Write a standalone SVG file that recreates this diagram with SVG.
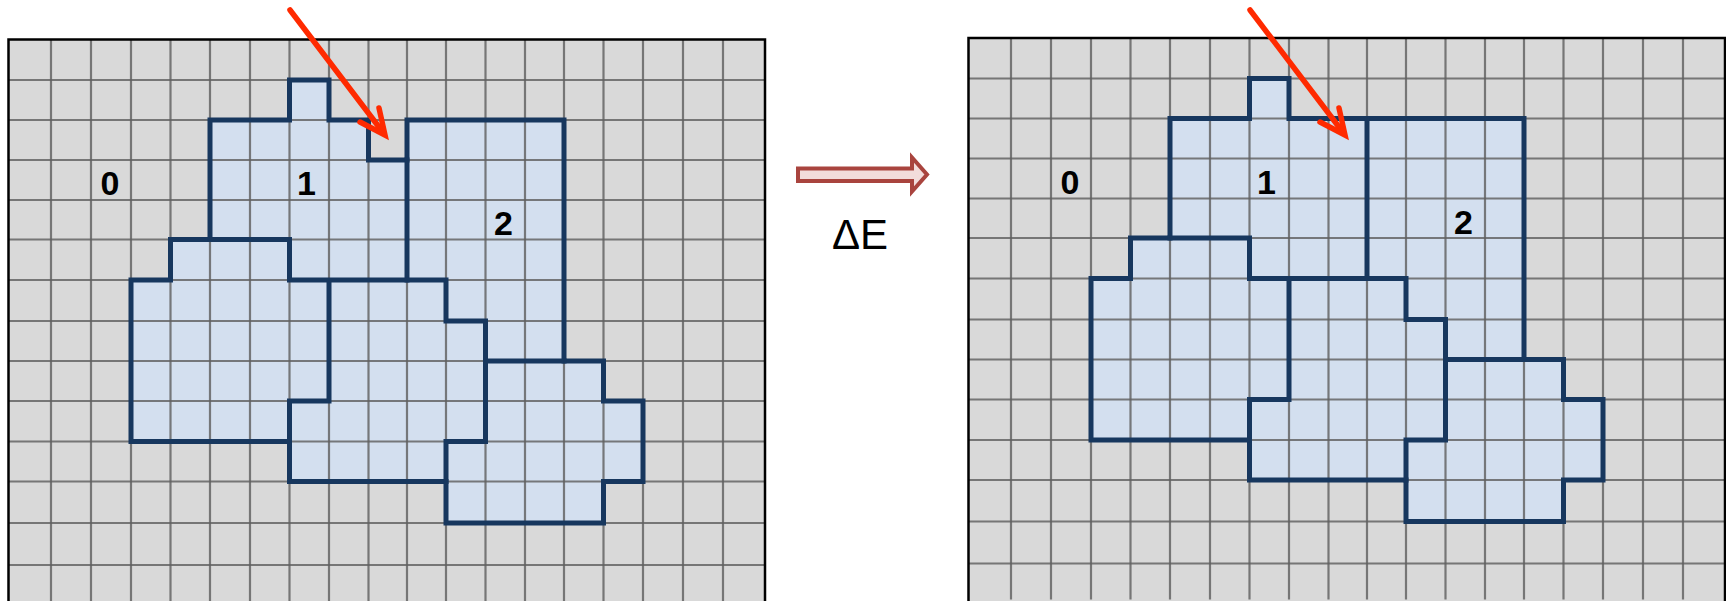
<svg xmlns="http://www.w3.org/2000/svg" xmlns:xlink="http://www.w3.org/1999/xlink" width="1726" height="601" viewBox="0 0 1726 601">
<style>
.bg{fill:#d9d9d9;stroke:none}
.border{fill:none;stroke:#000;stroke-width:2.5}
.fill{fill:#d3dfef;stroke:none}
.grid{stroke:#606060;stroke-opacity:0.82;stroke-width:2.2;fill:none}
.bnd{fill:none;stroke:#17375e;stroke-width:5;stroke-linejoin:miter;stroke-linecap:square}
.lbl{font-family:"Liberation Sans",Arial,sans-serif;font-weight:bold;font-size:34px;fill:#000;text-anchor:middle}
.red{fill:none;stroke:#ff2a00;stroke-width:5.5;stroke-linejoin:miter;stroke-linecap:round}
.de{font-family:"Liberation Sans",Arial,sans-serif;font-size:42px;fill:#000;text-anchor:middle}
</style>
<defs>
<g id="gridlines" class="grid">
<path d="M51,39.5V601M91,39.5V601M131,39.5V601M170.5,39.5V601M210,39.5V601M250,39.5V601M289.5,39.5V601M329,39.5V601M368.5,39.5V601M407,39.5V601M446,39.5V601M485.5,39.5V601M525,39.5V601M564,39.5V601M603.5,39.5V601M643,39.5V601M683,39.5V601M723,39.5V601"/>
<path d="M8.5,80H765M8.5,120H765M8.5,160H765M8.5,200H765M8.5,239.5H765M8.5,280H765M8.5,321H765M8.5,361H765M8.5,401H765M8.5,441.5H765M8.5,481.5H765M8.5,523H765M8.5,565H765"/>
</g>
<path id="inner" d="M210,239.5H289.5V280M289.5,280H446V321H485.5V441.5H446V481.5M485.5,361H564M329,280V401H289.5V441.5"/>
</defs>

<g id="panel-before">
<rect class="bg" x="8.5" y="39.5" width="756.5" height="570"/>
<path class="fill" d="M289.5,80H329V120H368.5V160H407V120H564V361H603.5V401H643V481.5H603.5V523H446V481.5H289.5V441.5H131V280H170.5V239.5H210V120H289.5Z"/>
<use xlink:href="#gridlines"/>
<g id="regions-before">
<path class="bnd" d="M289.5,80H329V120H368.5V160H407V120H564V361H603.5V401H643V481.5H603.5V523H446V481.5H289.5V441.5H131V280H170.5V239.5H210V120H289.5Z"/>
<path class="bnd" d="M407,160V280"/>
<use class="bnd" xlink:href="#inner"/>
</g>
<rect class="border" x="8.5" y="39.5" width="756.5" height="570"/>
<g id="labels-before">
<text class="lbl" x="110" y="195">0</text>
<text class="lbl" x="306.5" y="195">1</text>
<text class="lbl" x="503.5" y="235">2</text>
</g>
</g>

<g id="panel-after" transform="translate(960,-1.5)">
<rect class="bg" x="8.5" y="39.5" width="756.5" height="570"/>
<path class="fill" d="M289.5,80H329V120H564V361H603.5V401H643V481.5H603.5V523H446V481.5H289.5V441.5H131V280H170.5V239.5H210V120H289.5Z"/>
<use xlink:href="#gridlines"/>
<g id="regions-after">
<path class="bnd" d="M289.5,80H329V120H564V361H603.5V401H643V481.5H603.5V523H446V481.5H289.5V441.5H131V280H170.5V239.5H210V120H289.5Z"/>
<path class="bnd" d="M407,120V280"/>
<use class="bnd" xlink:href="#inner"/>
</g>
<rect class="border" x="8.5" y="39.5" width="756.5" height="570"/>
<g id="labels-after">
<text class="lbl" x="110" y="195">0</text>
<text class="lbl" x="306.5" y="195">1</text>
<text class="lbl" x="503.5" y="235">2</text>
</g>
</g>

<g id="connectors">
<g id="arrow-before">
<path class="red" d="M290,10L382,131"/>
<path class="red" d="M379,108L385,135L360,122"/>
</g>
<g id="arrow-after">
<path class="red" d="M1250,10L1342,131"/>
<path class="red" d="M1339,108L1345,135L1320,122"/>
</g>
<g id="transition">
<path d="M798,168.5H912V157.5L927,174.5L912,191.5V181H798Z" fill="#f2dcdb" stroke="#a9443e" stroke-width="4"/>
<text class="de" x="860" y="249">ΔE</text>
</g>
</g>
</svg>
